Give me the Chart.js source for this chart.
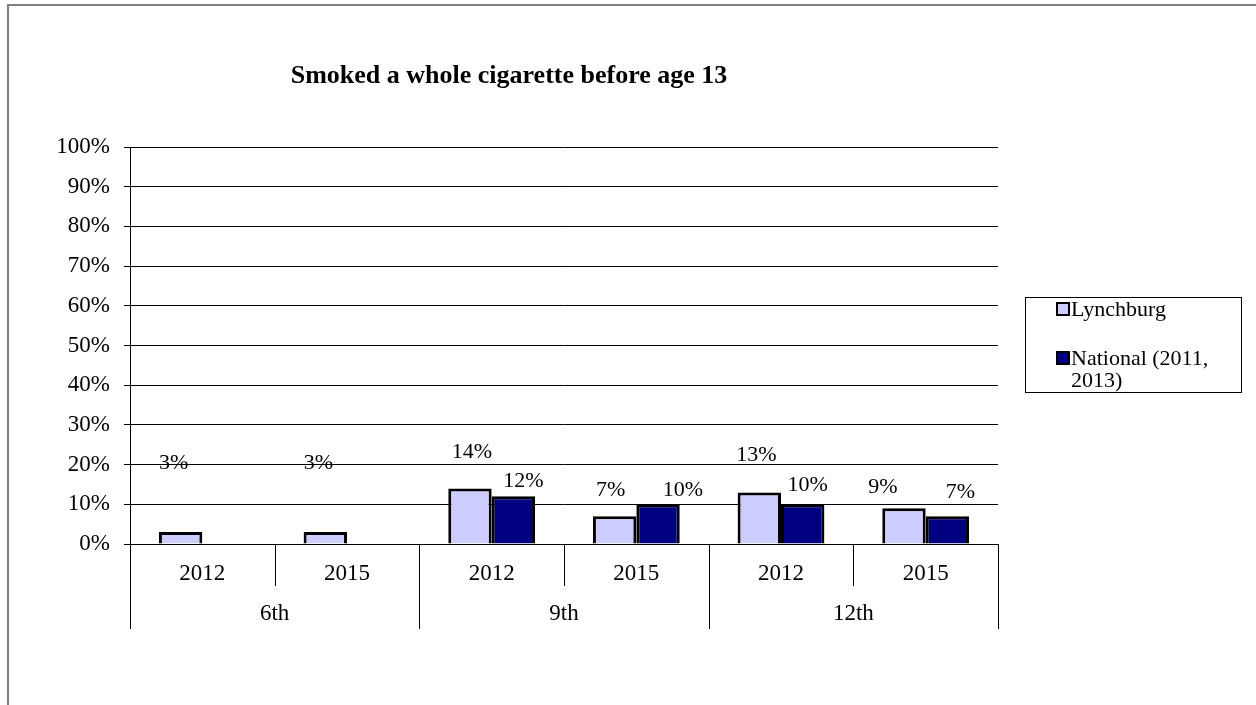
<!DOCTYPE html>
<html>
<head>
<meta charset="utf-8">
<script src="https://cdn.jsdelivr.net/npm/chart.js@4"></script>
<style>
html,body{margin:0;padding:0;background:#fff;}
#wrap{width:1256px;height:705px;position:relative;}
</style>
</head>
<body>
<div id="wrap"><canvas id="chart" width="1256" height="705"></canvas></div>
<script>
// data
const years=["2012","2015","2012","2015","2012","2015"];
const grades=["6th","9th","12th"];
const lynchburg=[3,3,14,7,13,9];
const national=[null,null,12,10,10,7];
const yTicks=[0,10,20,30,40,50,60,70,80,90,100];

// where each value label sits (value units) and its sideways nudge (px)
const lynchLabelAt=[20.4,20.4,23.2,13.6,22.4,14.4];
const lynchLabelDx=[-7,-7,2,-4,-3,-21];
const natLabelAt=[null,null,15.9,13.6,14.9,13.1];
const natLabelDx=[0,0,10,25,5,13];

const serif="'Liberation Serif','Times New Roman',serif";

const framePlugin={
id:"frame",
beforeDraw(chart){
let c=chart.ctx;
c.save();
c.fillStyle="#fff";
c.fillRect(0,0,chart.width,chart.height);
c.strokeStyle="#808080";
c.lineWidth=2;
c.beginPath();
c.moveTo(8,chart.height+5);
c.lineTo(8,5);
c.lineTo(chart.width+5,5);
c.stroke();
c.restore();
},
afterDraw(chart){
let c=chart.ctx;
let x=chart.scales.x;
let area=chart.chartArea;
let y0=area.bottom;
c.save();

// title
c.fillStyle="#000";
c.font="bold 26px "+serif;
c.textAlign="center";
c.textBaseline="middle";
c.fillText("Smoked a whole cigarette before age 13",509,76);

// two level category axis
let step=(area.right-area.left)/years.length;
c.strokeStyle="#000";
c.lineWidth=1;
for(let i=0;i<=years.length;i++){
let px=Math.round(area.left+i*step)+0.5;
let long=(i%2===0);
c.beginPath();
c.moveTo(px,y0);
c.lineTo(px,long?y0+85:y0+42);
c.stroke();
}
c.font="23px "+serif;
years.forEach((yr,i)=>{
c.fillText(yr,x.getPixelForValue(i),y0+30);
});
grades.forEach((g,i)=>{
let mid=(x.getPixelForValue(i*2)+x.getPixelForValue(i*2+1))/2;
c.fillText(g,mid,y0+70);
});

// value labels
c.font="22px "+serif;
let ys=chart.scales.y;
let drawLabels=(dsIndex,vals,at,dx)=>{
let meta=chart.getDatasetMeta(dsIndex);
vals.forEach((v,i)=>{
if(v===null)return;
let bar=meta.data[i];
c.fillText(v+"%",bar.x+dx[i],ys.getPixelForValue(at[i]));
});
};
drawLabels(0,lynchburg,lynchLabelAt,lynchLabelDx);
drawLabels(1,national,natLabelAt,natLabelDx);

// legend
c.lineWidth=1;
c.strokeRect(1025.5,297.5,216,95);
let items=[
{fill:"#CCCCFF",lines:["Lynchburg"],y:309},
{fill:"#000080",lines:["National (2011,","2013)"],y:358}
];
c.textAlign="left";
items.forEach(it=>{
c.fillStyle=it.fill;
c.fillRect(1057,it.y-6,12,12);
c.lineWidth=2;
c.strokeStyle="#000";
c.strokeRect(1057,it.y-6,12,12);
c.fillStyle="#000";
it.lines.forEach((t,j)=>{
c.fillText(t,1071,it.y+1+j*22);
});
});
c.restore();
}
};

new Chart(document.getElementById("chart"),{
type:"bar",
data:{
labels:years,
datasets:[
{
label:"Lynchburg",
data:lynchburg,
backgroundColor:"#CCCCFF",
borderColor:"#000",
borderWidth:3,
borderSkipped:"bottom",
categoryPercentage:0.6,
barPercentage:1
},
{
label:"National (2011, 2013)",
data:national,
backgroundColor:"#000080",
borderColor:"#000",
borderWidth:3,
borderSkipped:"bottom",
categoryPercentage:0.6,
barPercentage:1
}
]
},
options:{
responsive:false,
animation:false,
layout:{padding:{left:0,top:147,right:258,bottom:161}},
plugins:{
legend:{display:false},
title:{display:false},
tooltip:{enabled:false}
},
scales:{
x:{
display:true,
grid:{display:false,drawTicks:false},
border:{display:true,color:"#000",width:1},
ticks:{display:false}
},
y:{
min:0,
max:100,
afterBuildTicks(s){s.ticks=yTicks.map(v=>({value:v}));},
afterFit(s){s.width=130;},
grid:{color:"#000",lineWidth:1,tickLength:6},
border:{display:true,color:"#000",width:1},
ticks:{
color:"#000",
font:{family:serif,size:23},
padding:14,
callback:v=>v+"%"
}
}
}
},
plugins:[framePlugin]
});
</script>
</body>
</html>
